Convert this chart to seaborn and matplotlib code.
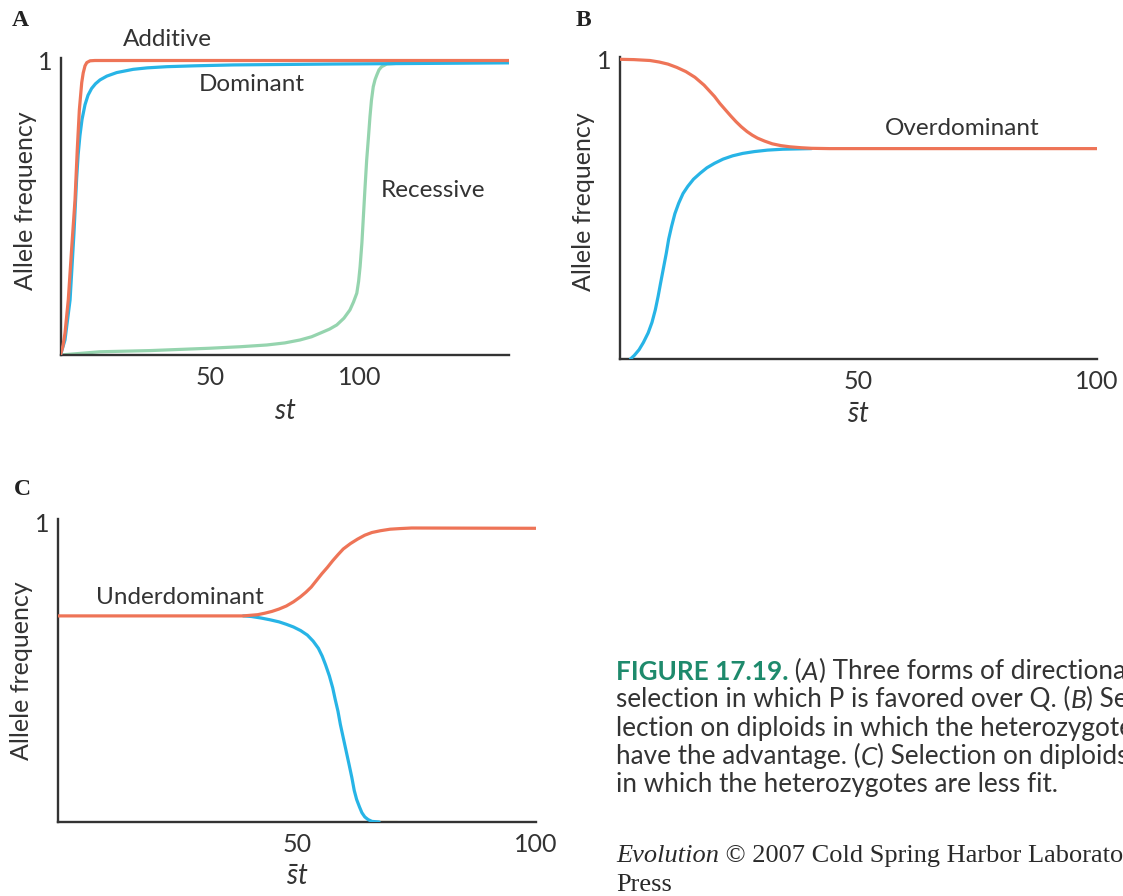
import matplotlib
matplotlib.use("Agg")
import matplotlib.pyplot as plt
import seaborn as sns

# ---- values ----------------------------------------------------------
# panel A: directional selection (x = st)
a_add_x = [0, 0.8, 1.5, 2.6, 3.7, 4.85, 5.6, 6.3, 7.1, 7.6, 8.2, 8.8, 9.9, 11.5, 13.2, 150]
a_add_y = [0, 0.03, 0.074, 0.187, 0.357, 0.526, 0.696, 0.832, 0.925, 0.958, 0.982, 0.993,
           0.999, 1.0, 1.0, 1.0]

a_dom_x = [0, 1.5, 3.2, 4.5, 5.4, 5.9, 6.5, 7.2, 8.2, 9.2, 10.4, 11.7, 13.2, 15.5, 18.8,
           24.3, 29, 35.5, 45, 57.8, 91.2, 150]
a_dom_y = [0, 0.051, 0.187, 0.413, 0.60, 0.68, 0.745, 0.80, 0.85, 0.882, 0.905, 0.921,
           0.934, 0.947, 0.959, 0.970, 0.975, 0.979, 0.982, 0.985, 0.988, 0.992]

a_rec_x = [0, 13.2, 30, 50, 60, 69, 75, 80.1, 84, 86.8, 90, 92.4, 94.8, 96.8, 98, 99.1,
           99.7, 100.2, 100.8, 101.3, 101.8, 102.4, 103, 103.5, 104, 104.6, 105.2, 105.8,
           106.5, 107.4, 109.1, 112]
a_rec_y = [0, 0.011, 0.015, 0.023, 0.028, 0.034, 0.041, 0.051, 0.062, 0.074, 0.088, 0.102,
           0.125, 0.153, 0.18, 0.21, 0.25, 0.30, 0.38, 0.47, 0.56, 0.662, 0.74, 0.809,
           0.865, 0.911, 0.935, 0.951, 0.968, 0.979, 0.988, 0.99]

# panel B: overdominance (x = mean st)
b_top_x = [0, 3, 6.4, 8.3, 10.15, 12, 13.9, 15.8, 17.7, 19.9, 21, 22.2, 23.3, 24.4, 25.5,
           26.7, 27.8, 28.9, 30.4, 32.0, 33.8, 35.7, 38, 40.2, 44, 47.7, 100]
b_top_y = [1.0, 0.999, 0.996, 0.991, 0.984, 0.973, 0.959, 0.94, 0.914, 0.876, 0.853, 0.831,
           0.811, 0.792, 0.775, 0.759, 0.747, 0.737, 0.727, 0.718, 0.712, 0.708, 0.705,
           0.703, 0.702, 0.702, 0.702]

b_low_x = [2.3, 3.1, 4.1, 5.0, 6.0, 6.8, 7.5, 8.1, 8.6, 9.2, 9.8, 10.3, 10.9, 11.6, 12.4,
           13.3, 14.3, 15.5, 16.9, 18.3, 19.9, 21.7, 23.7, 25.8, 28.2, 31, 34.2, 40.2]
b_low_y = [0, 0.012, 0.031, 0.055, 0.087, 0.122, 0.164, 0.21, 0.253, 0.303, 0.353, 0.40,
           0.442, 0.485, 0.52, 0.552, 0.576, 0.60, 0.62, 0.638, 0.653, 0.667, 0.678, 0.686,
           0.692, 0.697, 0.70, 0.702]

# panel C: underdominance (x = mean st)
c_up_x = [0, 25.3, 38.8, 41.8, 43.3, 44.8, 46.3, 47.8, 49.3, 50.7, 51.9, 53, 54.1, 55.2,
          56.4, 57.5, 58.6, 59.7, 61.2, 62.7, 64.2, 65.7, 67.5, 69.5, 71.5, 74, 100]
c_up_y = [0.687, 0.687, 0.687, 0.691, 0.696, 0.702, 0.71, 0.72, 0.734, 0.75, 0.766, 0.783,
          0.805, 0.827, 0.849, 0.871, 0.891, 0.91, 0.928, 0.943, 0.956, 0.965, 0.971, 0.976,
          0.978, 0.98, 0.979]

c_down_x = [38.8, 40.5, 42.5, 44.4, 46.3, 47.8, 49.3, 50.8, 52.2, 53.4, 54.5, 55.3, 56,
            56.8, 57.5, 58, 58.6, 59.1, 59.7, 60.3, 60.9, 61.5, 62, 62.5, 63.1, 63.6, 64.2,
            64.9, 65.7, 67.2]
c_down_y = [0.687, 0.685, 0.68, 0.674, 0.667, 0.659, 0.65, 0.638, 0.623, 0.603, 0.579,
            0.553, 0.524, 0.487, 0.447, 0.41, 0.369, 0.325, 0.281, 0.237, 0.193, 0.148,
            0.105, 0.075, 0.05, 0.031, 0.017, 0.008, 0.002, 0]

c_stub_x = [66, 71]
c_stub_y = [0, 0]

x_ticks_a = [50, 100]
x_ticks_bc = [50, 100]

caption_lines = [
    [("FIGURE 17.19.", "fig"), (" (", "n"), ("A", "i"), (") Three forms of directional", "n")],
    [("selection in which P is favored over Q. (", "n"), ("B", "i"), (") Se-", "n")],
    [("lection on diploids in which the heterozygotes", "n")],
    [("have the advantage. (", "n"), ("C", "i"), (") Selection on diploids", "n")],
    [("in which the heterozygotes are less fit.", "n")],
]
credit_line = [("Evolution", "si"), (" \u00a9 2007 Cold Spring Harbor Laboratory", "s")]

# ---- style ------------------------------------------------------------
ORANGE = "#ee7457"
BLUE = "#27b4e6"
GREEN = "#95d4ae"
YELLOW = "#f3e67c"
INK = "#333333"
FIG_GREEN = "#1e8a6c"

sns.set_theme(style="white")
plt.rcParams["font.family"] = ["Lato", "DejaVu Sans"]
plt.rcParams["mathtext.fontset"] = "custom"
plt.rcParams["mathtext.it"] = "Lato:italic"
plt.rcParams["mathtext.rm"] = "Lato"

W, H = 1123, 896
fig = plt.figure(figsize=(W / 100, H / 100), dpi=100)


def px_axes(left, right, bottom, top):
    return fig.add_axes([left / W, 1 - bottom / H, (right - left) / W, (bottom - top) / H])


def style_axes(ax, xmax, ytop, xticks, ytick_len, xlab, xlab_y, ylab_x, ylab_y=0.5):
    ax.set_xlim(0, xmax)
    ax.set_ylim(0, ytop)
    ax.set_xticks(xticks)
    ax.set_xticklabels([str(t) for t in xticks])
    ax.set_yticks([1])
    ax.set_yticklabels(["1"])
    sns.despine(ax=ax)
    for s in ("left", "bottom"):
        ax.spines[s].set_color(INK)
        ax.spines[s].set_linewidth(1.7)
    ax.tick_params(axis="x", direction="in", length=6, width=1.2, color=INK,
                   labelsize=18, labelcolor=INK, pad=8)
    ax.tick_params(axis="y", direction="in", length=ytick_len, width=1.2, color=INK,
                   labelsize=18, labelcolor=INK, pad=6)
    ax.set_xlabel(xlab, fontsize=20, color=INK)
    ax.xaxis.label.set_va("center")
    ax.xaxis.set_label_coords(0.5, xlab_y)
    ax.set_ylabel("Allele frequency", fontsize=18, color=INK)
    ax.yaxis.label.set_va("center")
    ax.yaxis.set_label_coords(ylab_x, ylab_y)
    ax.set_facecolor("white")


def curve(ax, xs, ys, color, lw=2.3, z=2):
    sns.lineplot(x=xs, y=ys, ax=ax, color=color, linewidth=lw, legend=False,
                 sort=False, zorder=z, solid_capstyle="round")


# ---- panel A ------------------------------------------------------------
axA = px_axes(60.5, 509, 355, 58)
curve(axA, a_rec_x, a_rec_y, GREEN, z=2)
curve(axA, a_dom_x, a_dom_y, BLUE, z=3)
curve(axA, a_add_x, a_add_y, ORANGE, z=4)
style_axes(axA, 150, 1.0085, x_ticks_a, 6, r"$st$", -0.19, -0.079, 0.52)
axA.text(20.9, 1.07, "Additive", fontsize=17.5, color=INK, va="center", clip_on=False)
axA.text(46.3, 0.917, "Dominant", fontsize=17.5, color=INK, va="center")
axA.text(107.2, 0.56, "Recessive", fontsize=17.5, color=INK, va="center")

# ---- panel B ------------------------------------------------------------
axB = px_axes(619.5, 1097, 359, 56.7)
curve(axB, b_low_x, b_low_y, BLUE, z=3)
curve(axB, b_top_x, b_top_y, ORANGE, z=4)
style_axes(axB, 100, 1.0087, x_ticks_bc, 0, r"$\bar{s}t$", -0.185, -0.076, 0.52)
axB.text(55.6, 0.77, "Overdominant", fontsize=17.5, color=INK, va="center")

# ---- panel C ------------------------------------------------------------
axC = px_axes(57.7, 536, 822, 519)
curve(axC, c_stub_x, c_stub_y, YELLOW, z=1)
curve(axC, c_down_x, c_down_y, BLUE, z=3)
curve(axC, c_up_x, c_up_y, ORANGE, z=4)
style_axes(axC, 100, 1.01, x_ticks_bc, 0, r"$\bar{s}t$", -0.18, -0.075)
axC.text(8.0, 0.75, "Underdominant", fontsize=17.5, color=INK, va="center")

# panel letters
for letter, (lx, ly) in {"A": (20, 20), "B": (583, 21), "C": (22, 489)}.items():
    fig.text(lx / W, 1 - ly / H, letter, fontsize=17, fontweight="bold", color="#222222",
             family=["Liberation Serif", "DejaVu Serif"], ha="center", va="center")

# ---- caption ------------------------------------------------------------
cap = fig.add_axes([0, 0, 1, 1], zorder=-5)
cap.axis("off")
cap.set_xlim(0, 1)
cap.set_ylim(0, 1)

styles = {
    "fig": dict(color=FIG_GREEN, fontweight="bold", family=["Lato", "DejaVu Sans"]),
    "n": dict(color=INK, family=["Lato", "DejaVu Sans"]),
    "i": dict(color=INK, fontstyle="italic", family=["Lato", "DejaVu Sans"]),
    "s": dict(color="#2a2a2a", family=["Liberation Serif", "DejaVu Serif"]),
    "si": dict(color="#2a2a2a", fontstyle="italic", family=["Liberation Serif", "DejaVu Serif"]),
}


def write_line(pieces, x_px, bottom_px, size):
    prev = None
    for txt, st in pieces:
        if prev is None:
            prev = cap.text(x_px / W, 1 - bottom_px / H, txt, fontsize=size, va="bottom",
                            ha="left", transform=cap.transAxes, **styles[st])
        else:
            prev = cap.annotate(txt, xy=(1, 0), xycoords=prev, va="bottom", ha="left",
                                fontsize=size, **styles[st])


line_bottoms = [684, 712, 741, 769, 797]
for pieces, b in zip(caption_lines, line_bottoms):
    write_line(pieces, 616, b, 18.8)
write_line(credit_line, 616, 867, 19)
write_line([("Press", "s")], 616, 896, 19)

fig.savefig("out.png", dpi=100, facecolor="white")
